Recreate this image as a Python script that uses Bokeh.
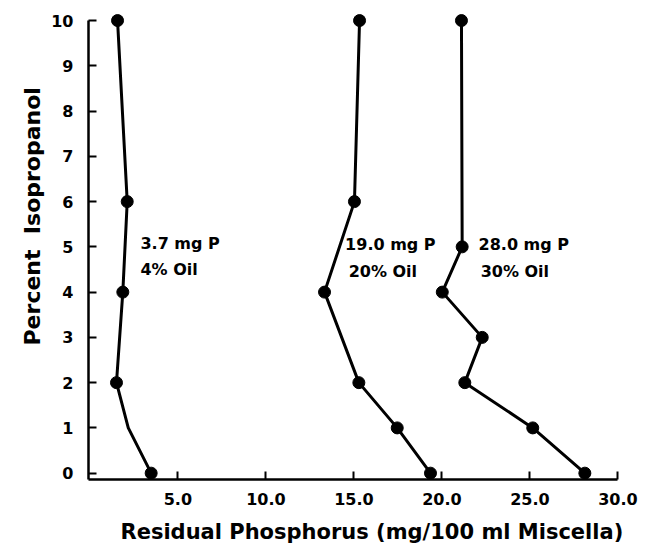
from bokeh.plotting import figure
from bokeh.models import Range1d, FixedTicker, Label, Title
from bokeh.embed import file_html
from bokeh.resources import INLINE

# Series 1: 3.7 mg P, 4% oil
s1_x = [3.48, 2.18, 1.51, 1.87, 2.12, 1.57]
s1_y = [0, 1, 2, 4, 6, 10]
s1_dot = [True, False, True, True, True, True]

# Series 2: 19.0 mg P, 20% oil
s2_x = [19.35, 17.46, 15.28, 13.33, 15.03, 15.32]
s2_y = [0, 1, 2, 4, 6, 10]

# Series 3: 28.0 mg P, 30% oil
s3_x = [28.12, 25.16, 21.3, 22.29, 20.02, 21.15, 21.11]
s3_y = [0, 1, 2, 3, 4, 5, 10]

x_ticks = [5, 10, 15, 20, 25, 30]
x_tick_labels = {5: "5.0", 10: "10.0", 15: "15.0", 20: "20.0", 25: "25.0", 30: "30.0"}
y_ticks = list(range(0, 11))

FONT = "DejaVu Sans"

p = figure(width=640, height=555, output_backend="svg", toolbar_location=None,
           x_range=Range1d(-0.08, 30.6), y_range=Range1d(-0.14, 10.2),
           min_border_left=88, min_border_right=12, min_border_top=11, min_border_bottom=76)
p.outline_line_color = None
p.xgrid.visible = False
p.ygrid.visible = False
p.background_fill_color = "white"

for ax in (p.xaxis[0], p.yaxis[0]):
    ax.axis_line_width = 2.5
    ax.axis_line_color = "black"
    ax.major_tick_line_width = 2
    ax.major_tick_line_color = "black"
    ax.major_tick_in = 8
    ax.major_tick_out = 0
    ax.minor_tick_line_color = None
    ax.major_label_text_font = FONT
    ax.major_label_text_font_style = "bold"
    ax.major_label_text_font_size = "16px"
    ax.major_label_text_color = "black"

p.xaxis[0].ticker = FixedTicker(ticks=x_ticks)
p.xaxis[0].major_label_overrides = {k: v for k, v in x_tick_labels.items()}
p.xaxis[0].bounds = (-0.08, 30)
p.xaxis[0].major_label_standoff = 13
p.yaxis[0].ticker = FixedTicker(ticks=y_ticks)
p.yaxis[0].bounds = (-0.14, 10)
p.yaxis[0].major_label_standoff = 15

# series lines and markers
p.line(s1_x, s1_y, line_color="black", line_width=3)
p.scatter([x for x, d in zip(s1_x, s1_dot) if d], [y for y, d in zip(s1_y, s1_dot) if d],
          size=12, color="black")
p.line(s2_x, s2_y, line_color="black", line_width=3)
p.scatter(s2_x, s2_y, size=12, color="black")
p.line(s3_x, s3_y, line_color="black", line_width=3)
p.scatter(s3_x, s3_y, size=12, color="black")

def lab(x, y, t):
    p.add_layout(Label(x=x, y=y, text=t, text_font=FONT, text_font_style="bold",
                       text_font_size="16px", text_color="black", text_baseline="middle"))

lab(2.87, 5.07, "3.7 mg P")
lab(2.87, 4.5, "4% Oil")
lab(14.5, 5.05, "19.0 mg P")
lab(14.7, 4.45, "20% Oil")
lab(22.08, 5.05, "28.0 mg P")
lab(22.2, 4.45, "30% Oil")

# axis titles
xt = Title(text="Residual Phosphorus (mg/100 ml Miscella)", align="left", offset=32,
           text_font=FONT, text_font_style="bold", text_font_size="21px",
           text_color="black", standoff=21)
p.add_layout(xt, "below")
yt = Title(text="Percent\u00a0\u00a0Isopropanol", align="left", offset=134,
           text_font=FONT, text_font_style="bold", text_font_size="22px",
           text_color="black", standoff=8)
p.add_layout(yt, "left")

open("out.html", "w").write(file_html(p, INLINE))
